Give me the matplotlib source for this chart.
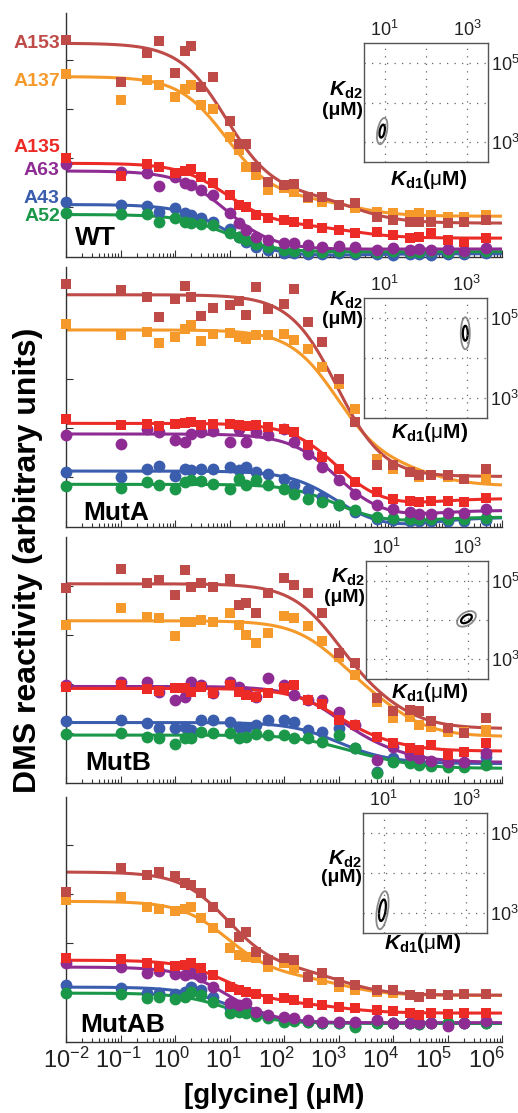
import numpy as np
import matplotlib
matplotlib.use("Agg")
import matplotlib.pyplot as plt
from matplotlib.patches import Ellipse
from matplotlib.ticker import LogLocator, NullFormatter
from matplotlib.transforms import offset_copy, blended_transform_factory

plt.rcParams['font.family'] = ['Liberation Sans', 'DejaVu Sans']
plt.rcParams['mathtext.fontset'] = 'custom'
plt.rcParams['mathtext.rm'] = 'Liberation Sans'
plt.rcParams['mathtext.it'] = 'Liberation Sans:italic:bold'
plt.rcParams['mathtext.bf'] = 'Liberation Sans:bold'

# glycine concentrations (uM)
conc = np.array([0.01, 0.1, 0.3, 0.5, 1, 1.5, 2, 3, 5, 10, 15, 20, 30, 50, 100, 150,
                 270, 500, 1000, 2000, 5000, 1e4, 2e4, 3e4, 5e4, 1e5, 2e5, 5e5])

residues = ['A153', 'A137', 'A135', 'A63', 'A43', 'A52']
colors = ['#BE4B48', '#F59A2A', '#EC2B26', '#8E2C93', '#3B5DAD', '#1A9748']
markers = ['s', 's', 's', 'o', 'o', 'o']
panels = ['WT', 'MutA', 'MutB', 'MutAB']

# DMS reactivity, arbitrary units
wt_a153 = [217, 175, 204, 216, 184, 206, 211, 170, 180, 136, 113, 113, 90, 75, 72, 73, 60, 60, 52, 54, 40, 37, 35, 35, 35, 34, 35, 37]
wt_a137 = [183, 157, 177, 172, 160, 168, 172, 152, 148, 120, 107, 90, 82, 67, 69, 65, 59, 55, 52, 49, 45, 44, 42, 44, 42, 40, 40, 42]
wt_a135 = [99, 81, 93, 90, 84, 86, 88, 80, 74, 62, 52, 50, 42, 39, 37, 35, 33, 29, 27, 24, 25, 22, 19, 20, 24, 17, 15, 19]
wt_a63 = [93, 85, 84, 71, 80, 74, 72, 67, 62, 44, 34, 27, 20, 17, 14, 14, 12, 10, 11, 10, 7, 9, 7, 8, 7, 8, 6, 9]
wt_a43 = [55, 52, 51, 45, 49, 44, 42, 39, 35, 28, 20, 15, 10, 7, 4, 4, 3, 3, 4, 3, 3, 2, 3, 3, 2, 3, 3, 4]
wt_a52 = [44, 43, 43, 35, 39, 35, 34, 33, 32, 24, 20, 17, 13, 10, 7, 6, 6, 5, 6, 5, 5, 6, 5, 5, 6, 5, 5, 6]

ma_a153 = [243, 237, 230, 210, 228, 241, 230, 211, 219, 222, 226, 212, 240, 218, 223, 238, 205, 185, 148, 105, 62, 62, 55, 52, 52, 52, 48, 58]
ma_a137 = [203, 192, 195, 184, 190, 198, 202, 186, 193, 194, 190, 188, 192, 192, 193, 187, 178, 160, 143, 118, 68, 58, 55, 50, 52, 50, 48, 48]
ma_a135 = [108, 102, 103, 101, 103, 104, 105, 102, 103, 103, 102, 101, 102, 100, 98, 95, 82, 70, 58, 45, 35, 28, 26, 25, 26, 26, 25, 29]
ma_a63 = [92, 83, 98, 95, 87, 85, 93, 95, 96, 85, 98, 85, 95, 92, 98, 85, 73, 60, 47, 33, 22, 18, 15, 13, 13, 14, 14, 18]
ma_a43 = [55, 50, 58, 61, 51, 58, 57, 58, 58, 60, 57, 60, 55, 53, 48, 42, 37, 30, 22, 15, 8, 7, 6, 6, 6, 6, 6, 7]
ma_a52 = [41, 39, 45, 42, 38, 45, 47, 46, 43, 38, 48, 42, 47, 42, 38, 33, 28, 25, 22, 17, 10, 9, 8, 8, 8, 8, 8, 9]

mb_a153 = [195, 214, 200, 203, 188, 213, 196, 200, 196, 204, 178, 180, 170, 190, 205, 198, 190, 170, 130, 120, 85, 72, 73, 72, 62, 55, 50, 65]
mb_a137 = [158, 175, 166, 165, 147, 161, 161, 163, 161, 170, 158, 148, 140, 150, 167, 165, 157, 142, 126, 108, 81, 65, 66, 58, 56, 51, 51, 53]
mb_a135 = [96, 98, 94, 92, 95, 95, 91, 96, 90, 98, 91, 88, 86, 90, 95, 98, 83, 79, 63, 58, 46, 40, 35, 33, 38, 28, 31, 40]
mb_a63 = [98, 101, 101, 91, 83, 86, 101, 98, 90, 101, 96, 91, 86, 105, 98, 88, 83, 83, 71, 58, 23, 36, 28, 25, 22, 21, 21, 30]
mb_a43 = [62, 63, 60, 55, 55, 56, 53, 63, 63, 61, 56, 55, 58, 63, 63, 61, 53, 51, 55, 35, 11, 25, 21, 20, 19, 20, 20, 26]
mb_a52 = [49, 50, 46, 45, 39, 45, 45, 51, 50, 50, 45, 46, 49, 48, 48, 45, 45, 41, 48, 35, 10, 21, 20, 18, 17, 16, 16, 18]

mab_a153 = [150, 174, 167, 170, 166, 159, 157, 149, 135, 119, 105, 110, 90, 82, 84, 82, 65, 69, 60, 57, 52, 52, 47, 45, 48, 47, 48, 48]
mab_a137 = [142, 145, 135, 133, 131, 133, 135, 124, 114, 94, 87, 85, 84, 75, 79, 74, 65, 62, 55, 52, 50, 49, 47, 45, 48, 47, 48, 48]
mab_a135 = [84, 83, 79, 75, 76, 77, 79, 74, 67, 55, 52, 50, 48, 43, 44, 42, 39, 37, 35, 34, 32, 31, 29, 27, 29, 28, 29, 29]
mab_a63 = [79, 75, 69, 71, 68, 67, 69, 65, 55, 39, 37, 39, 30, 27, 25, 24, 22, 20, 20, 20, 22, 19, 19, 19, 19, 16, 19, 21]
mab_a43 = [57, 54, 49, 49, 48, 50, 55, 52, 45, 34, 32, 32, 29, 25, 22, 22, 20, 19, 19, 16, 19, 19, 19, 18, 19, 19, 19, 19]
mab_a52 = [49, 48, 44, 45, 43, 45, 50, 47, 40, 29, 30, 29, 26, 24, 20, 21, 20, 19, 19, 15, 19, 19, 19, 18, 19, 19, 19, 19]

# fitted dissociation constants, log10(uM)
kd1_log = [0.94, 2.97, 2.97, 0.97]
kd2_log = [3.28, 4.62, 4.03, 3.07]

panel_data = [
    [wt_a153, wt_a137, wt_a135, wt_a63, wt_a43, wt_a52],
    [ma_a153, ma_a137, ma_a135, ma_a63, ma_a43, ma_a52],
    [mb_a153, mb_a137, mb_a135, mb_a63, mb_a43, mb_a52],
    [mab_a153, mab_a137, mab_a135, mab_a63, mab_a43, mab_a52],
]

# layout (figure fractions)
main_rects = [(0.1274, 0.7691, 0.842, 0.2192),
              (0.1274, 0.5265, 0.842, 0.2336),
              (0.1274, 0.2965, 0.842, 0.2210),
              (0.1274, 0.0638, 0.842, 0.2201)]
ytops = [244, 260, 246, 245]
inset_rects = [(0.7027, 0.8544, 0.2394, 0.1069),
               (0.7027, 0.6244, 0.2375, 0.1078),
               (0.7066, 0.3899, 0.2355, 0.1060),
               (0.7008, 0.1617, 0.2394, 0.1078)]
name_pos = [(0.02, 0.05), (0.04, 0.027), (0.045, 0.053), (0.032, 0.04)]
kd2_pos = [(0.60, 0.43), (0.98, 0.82), (0.86, 0.69), (0.61, 0.46)]
kd1_pos = [(0.52, -0.15), (0.53, -0.12), (0.52, -0.11), (0.48, -0.09)]
# contour ellipses: (inner w, h), (outer w, h), angle
ell_inner = [(0.12, 0.33), (0.12, 0.37), (0.30, 0.17), (0.15, 0.54)]
ell_outer = [(0.23, 0.67), (0.22, 0.80), (0.52, 0.32), (0.27, 0.96)]
ell_angle = [-10, 0, 35, -8]

label_y = [214, 176, 110, 87, 58, 40]
decades = list(range(-2, 7))

def fit_curve(c, y, k1, k2, grid):
    A = np.column_stack([1 / (1 + c / k1), 1 / (1 + c / k2), np.ones_like(c)])
    coef = np.linalg.lstsq(A, np.asarray(y, float), rcond=None)[0]
    G = np.column_stack([1 / (1 + grid / k1), 1 / (1 + grid / k2), np.ones_like(grid)])
    return G @ coef

fig = plt.figure(figsize=(5.18, 11.13), dpi=100)
grid = np.logspace(-2, 6, 400)
draw_order = [4, 5, 3, 2, 1, 0]

for p in range(4):
    ax = fig.add_axes(main_rects[p])
    k1, k2 = 10 ** kd1_log[p], 10 ** kd2_log[p]
    for i in draw_order:
        y = panel_data[p][i]
        ax.plot(grid, fit_curve(conc, y, k1, k2, grid), color=colors[i], lw=2.2, zorder=2)
        ax.plot(conc, y, linestyle='none', marker=markers[i], color=colors[i],
                ms=7.5 if markers[i] == 's' else 8.5, mew=0, zorder=3, clip_on=False)
    ax.set_xscale('log')
    ax.set_xlim(1e-2, 1e6)
    ax.set_ylim(0, ytops[p])
    ax.xaxis.set_major_locator(LogLocator(base=10, numticks=20))
    ax.xaxis.set_minor_locator(LogLocator(base=10, subs=np.arange(2, 10), numticks=200))
    ax.xaxis.set_minor_formatter(NullFormatter())
    ax.set_yticks([50, 99, 148, 197])
    ax.set_yticklabels([])
    for s in ['top', 'right']:
        ax.spines[s].set_visible(False)
    for s in ['left', 'bottom']:
        ax.spines[s].set_color('#333333')
        ax.spines[s].set_linewidth(1.0)
    ax.tick_params(which='both', direction='in', colors='#333333', width=0.8)
    ax.tick_params(which='major', length=5)
    ax.tick_params(which='minor', length=3)
    ax.tick_params(labelbottom=False)
    if p == 3:
        # decade labels, drawn slightly compressed toward the left like the original
        trans = blended_transform_factory(ax.transData, ax.transAxes)
        for k, e in enumerate(decades):
            t = offset_copy(trans, fig=fig, x=-2 * k, y=-6, units='dots')
            ax.text(10.0 ** e, 0, f'$10^{{{e}}}$', transform=t, ha='center', va='top',
                    fontsize=17, color='#222222')
    ax.text(name_pos[p][0], name_pos[p][1], panels[p], transform=ax.transAxes,
            fontsize=19, fontweight='bold', ha='left', va='baseline')
    if p == 0:
        for i, r in enumerate(residues):
            ax.text(-0.014, label_y[i], r, transform=ax.get_yaxis_transform(),
                    color=colors[i], fontsize=14, fontweight='bold', ha='right', va='center')

    # inset with Kd contours
    ins = fig.add_axes(inset_rects[p])
    ins.set_xlim(0.5, 3.5)
    ins.set_ylim(2.5, 5.5)
    ins.set_xticks([1, 2, 3])
    ins.set_xticklabels(['$10^1$', '', '$10^3$'])
    ins.set_yticks([3, 4, 5])
    ins.set_yticklabels(['$10^3$', '', '$10^5$'])
    ins.xaxis.tick_top()
    ins.yaxis.tick_right()
    ins.tick_params(length=0, labelsize=13, pad=2, labelcolor='#222222')
    ins.grid(True, linestyle=(0, (1, 5)), color='#666666', linewidth=0.9)
    for s in ins.spines.values():
        s.set_color('#555555')
        s.set_linewidth(1.0)
    cx, cy = kd1_log[p], kd2_log[p]
    ins.add_patch(Ellipse((cx, cy), ell_outer[p][0], ell_outer[p][1], angle=ell_angle[p],
                          fill=False, ec='#8a8a8a', lw=1.3))
    ins.add_patch(Ellipse((cx, cy), ell_inner[p][0], ell_inner[p][1], angle=ell_angle[p],
                          fill=False, ec='black', lw=1.6))
    ins.text(-0.01, kd2_pos[p][0], r'$K_{\mathbf{d2}}$', transform=ins.transAxes,
             fontsize=15, ha='right', va='center')
    ins.text(-0.01, kd2_pos[p][1], '(μM)', transform=ins.transAxes,
             fontsize=14, fontweight='bold', ha='right', va='center')
    ins.text(kd1_pos[p][0], kd1_pos[p][1], r'$K_{\mathbf{d1}}$' + r'$\mathbf{(}$μ$\mathbf{M)}$',
             transform=ins.transAxes, fontsize=15, ha='center', va='center')

fig.text(0.054, 0.497, 'DMS reactivity (arbitrary units)', rotation=90,
         fontsize=23, fontweight='bold', ha='center', va='center')
fig.text(0.53, 0.0155, '[glycine] (μM)', fontsize=20, fontweight='bold',
         ha='center', va='center')

fig.savefig('out.png', dpi=100)
